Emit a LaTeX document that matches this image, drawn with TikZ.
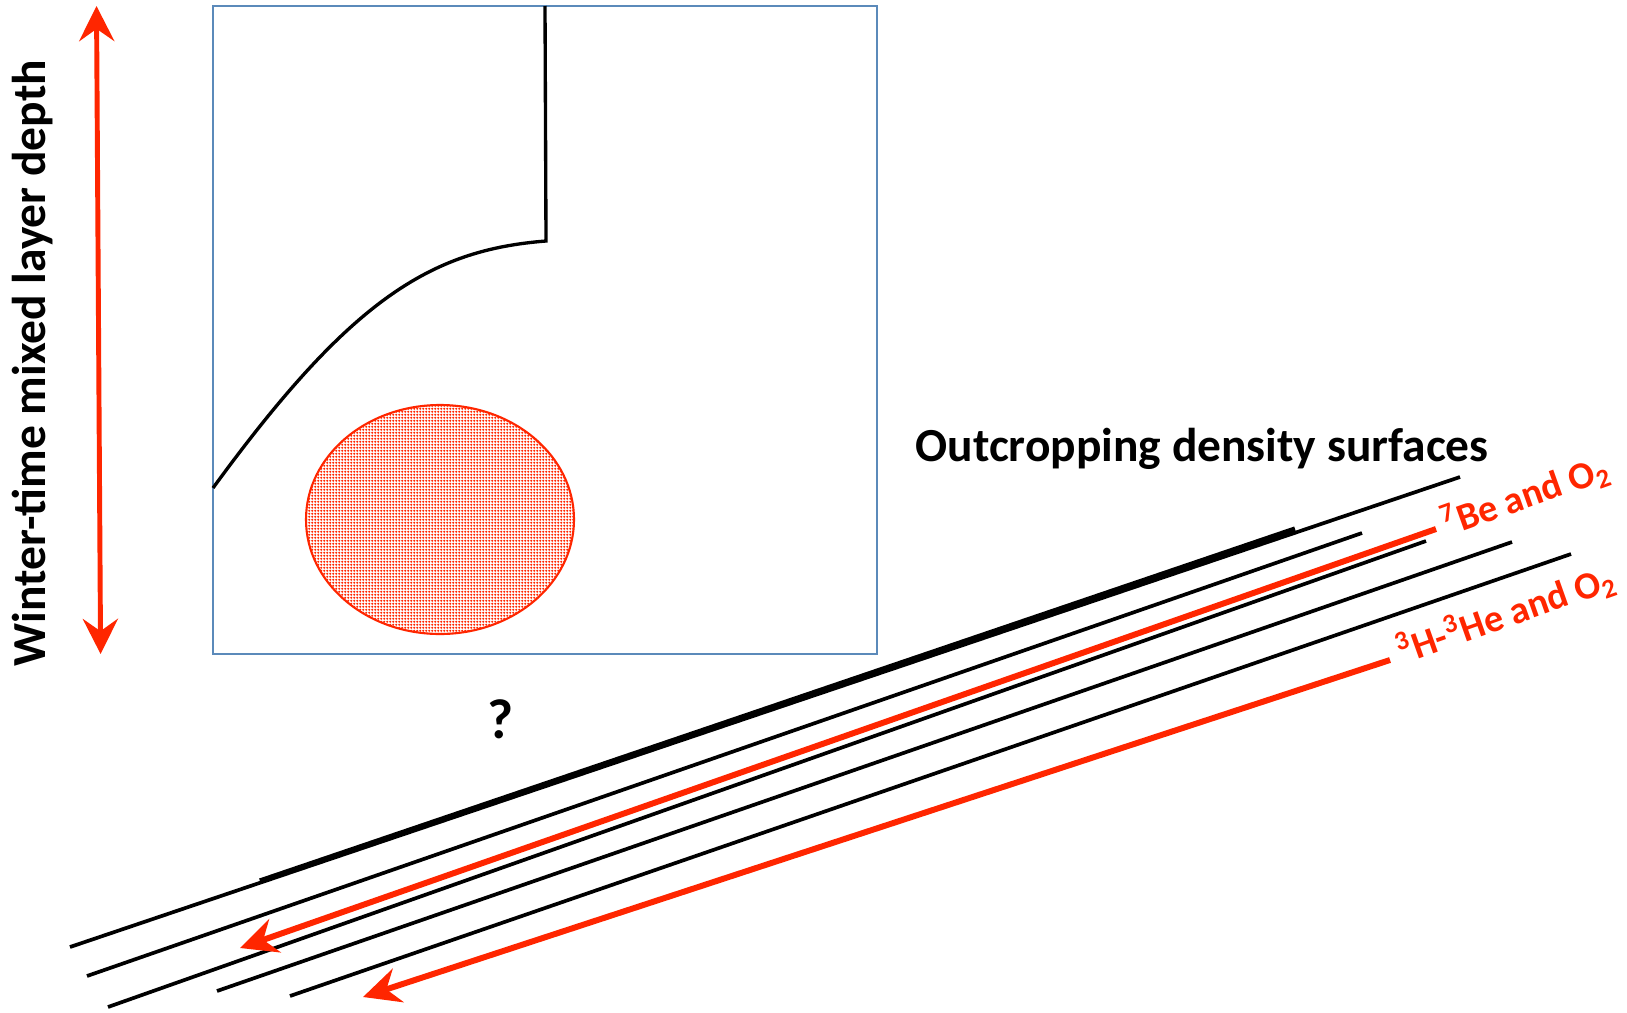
\documentclass[tikz,border=0pt]{standalone}
\usepackage{fontspec}
\setmainfont{Carlito}
\usetikzlibrary{arrows.meta, patterns.meta}

\definecolor{tracerred}{RGB}{255,38,0}
\definecolor{boxblue}{RGB}{91,138,186}

\begin{document}
\begin{tikzpicture}[x=0.1mm, y=-0.1mm,
	surface/.style={line width=1.05pt, black},
	tracer/.style={line width=1.7pt, tracerred, -{Stealth[length=10.5pt, width=10pt, inset=3.5pt]}},
	biglabel/.style={font=\fontsize{13.5}{15}\selectfont\bfseries, inner sep=0pt},
	taglabel/.style={font=\fontsize{10.9}{12}\selectfont\bfseries, text=tracerred, inner sep=0pt, rotate=19.5, anchor=base west}]
	
	\useasboundingbox (0,0) rectangle (1627,1012);
	
	% -------------------------------------------------------------------------
	% 1. 混合层深度 (左侧双向箭头)
	% -------------------------------------------------------------------------
	\coordinate (MLtop) at (96.5,6);
	\coordinate (MLbot) at (100.6,654);
	\draw[line width=1.4pt, tracerred, {Stealth[length=10pt, width=10pt, inset=3.5pt]}-{Stealth[length=10pt, width=10pt, inset=3.5pt]}]
	(MLtop) -- (MLbot);
	\node[biglabel, rotate=90, anchor=base] (mldepth) at (45,363) {Winter-time mixed layer depth};
	
	% -------------------------------------------------------------------------
	% 2. 方框、剖面曲线与红色椭圆
	% -------------------------------------------------------------------------
	\draw[line width=0.6pt, boxblue] (213,6) rectangle (877,654);
	
	\coordinate (Ptop)  at (545,6);
	\coordinate (Pknee) at (546,241);
	\coordinate (Pend)  at (213,488);
	\draw[line width=0.95pt] (Ptop) -- (Pknee) .. controls (430,250) and (350,300) .. (Pend);
	
	\draw[line width=0.6pt, tracerred, pattern={Dots[distance=0.9pt, radius=0.38pt]}, pattern color=tracerred]
	(440,519.5) ellipse [x radius=13.4mm, y radius=11.45mm];
	
	\node[font=\fontsize{16}{18}\selectfont\bfseries, inner sep=0pt, anchor=base] (qmark) at (501,738) {?};
	
	% -------------------------------------------------------------------------
	% 3. 露头等密度面
	% -------------------------------------------------------------------------
	\node[biglabel, anchor=base west] (outcrop) at (915,461) {Outcropping density surfaces};
	
	\draw[surface] (70,947) -- (1460,477);
	\draw[line width=1.5pt] (260,881) -- (1295,529);
	\draw[surface] (87,976) -- (1362,533);
	\draw[surface] (108,1007) -- (1426,541);
	\draw[surface] (217,991) -- (1512,542);
	\draw[surface] (290,996) -- (1571,554);
	
	% -------------------------------------------------------------------------
	% 4. 示踪剂路径
	% -------------------------------------------------------------------------
	\coordinate (BeStart) at (1436,529);
	\coordinate (BeEnd)   at (240,948);
	\draw[tracer] (BeStart) -- (BeEnd);
	\node[taglabel] (Be) at (1447,537) {\textsuperscript{7}Be and O\textsubscript{2}};
	
	\coordinate (HStart) at (1390,660);
	\coordinate (HEnd)   at (363,997);
	\draw[tracer] (HStart) -- (HEnd);
	\node[taglabel] (HHe) at (1402,665) {\textsuperscript{3}H-\textsuperscript{3}He and O\textsubscript{2}};
	
\end{tikzpicture}
\end{document}
